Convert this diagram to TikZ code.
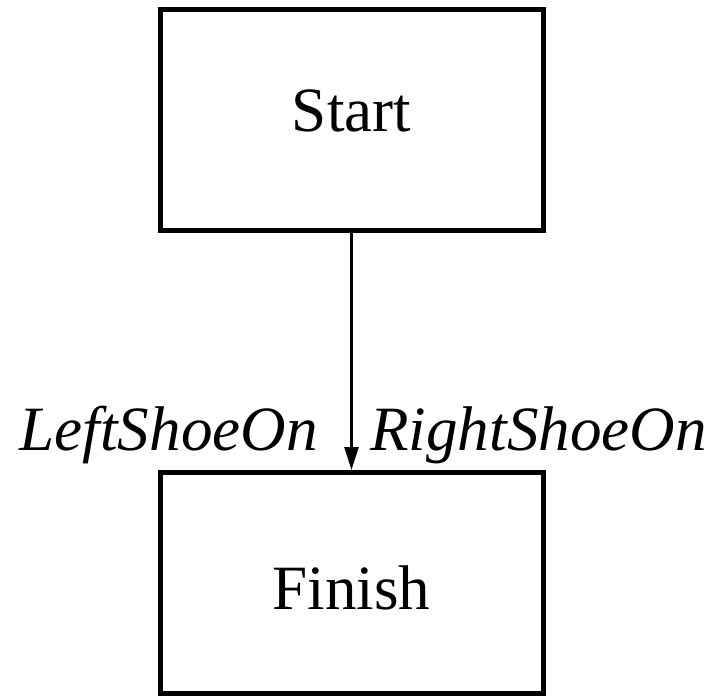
\documentclass[tikz,border=0pt]{standalone}
\usepackage{fontspec}
\setmainfont{Liberation Serif}
\usetikzlibrary{arrows.meta}
\tikzset{
  actionbox/.style={draw, line width=0.1cm, minimum width=7.66cm, minimum height=4.42cm,
    inner sep=0pt, font=\fontsize{35.9}{43}\selectfont},
  shoelabel/.style={inner sep=0pt, font=\fontsize{35.9}{43}\selectfont\itshape}
}
\begin{document}
\begin{tikzpicture}
\useasboundingbox (0,0) rectangle (14.32,-13.94);
\node[actionbox, text height=0.48cm] (start) at (7.03,-2.4) {Start};
\node[actionbox, text height=1.08cm] (finish) at (7.03,-11.66) {Finish};
\draw[-{Triangle[length=0.46cm,width=0.28cm]}, line width=0.05cm] (start) -- (finish);
\node[shoelabel, anchor=base east] (leftshoe) at (6.36,-9.0) {LeftShoeOn};
\node[shoelabel, anchor=base west] (rightshoe) at (7.4,-9.0) {RightShoeOn};
\end{tikzpicture}
\end{document}
